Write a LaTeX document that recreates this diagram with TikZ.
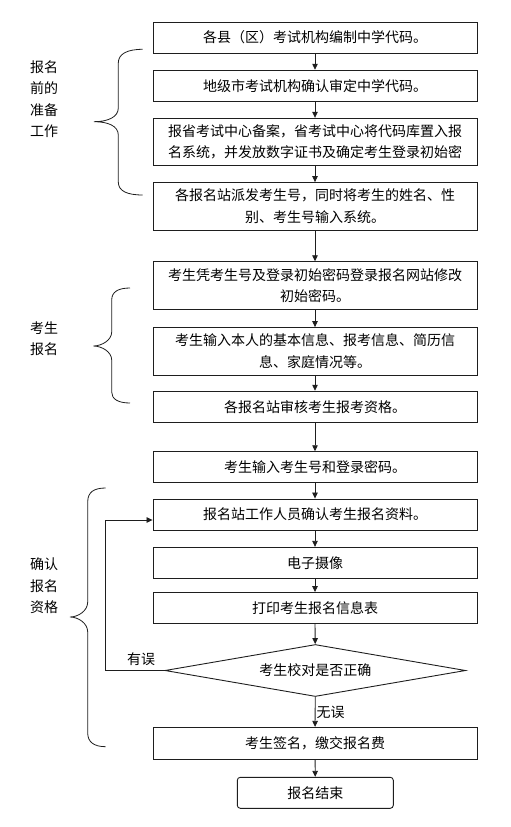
\documentclass[tikz,border=0pt]{standalone}
\usepackage{fontspec}
\setmainfont{Noto Sans CJK SC}
\usepackage{tikz}
\usetikzlibrary{positioning,arrows.meta,shapes.geometric}
\definecolor{lineblack}{RGB}{30,30,30}

\begin{document}
\begin{tikzpicture}[x=1pt, y=-1pt,
    every node/.style={font=\fontsize{14}{21.5}\selectfont, text=black},
    stepbox/.style={draw=lineblack, line width=0.9pt, minimum width=324pt, inner sep=0pt, align=center},
    flow/.style={draw=lineblack, line width=0.8pt, -{Triangle[length=6pt, width=5.5pt]}},
    brace/.style={draw=lineblack, line width=0.8pt}]
\useasboundingbox (0,0) rectangle (511,827);

% Steps
\node[stepbox, minimum height=31pt] (county) at (315,37.5) {各县（区）考试机构编制中学代码。};
\node[stepbox, minimum height=31pt] (city) at (315,85.7) {地级市考试机构确认审定中学代码。};
\node[stepbox, minimum height=47.5pt] (prov) at (315,142) {报省考试中心备案，省考试中心将代码库置入报\\名系统，并发放数字证书及确定考生登录初始密};
\node[stepbox, minimum height=47.5pt] (station) at (315,206.3) {各报名站派发考生号，同时将考生的姓名、性\\别、考生号输入系统。};
\node[stepbox, minimum height=47.5pt] (login) at (315,285.5) {考生凭考生号及登录初始密码登录报名网站修改\\初始密码。};
\node[stepbox, minimum height=47.5pt] (info) at (315,351.3) {考生输入本人的基本信息、报考信息、简历信\\息、家庭情况等。};
\node[stepbox, minimum height=31pt] (audit) at (315,406.7) {各报名站审核考生报考资格。};
\node[stepbox, minimum height=31pt] (enter) at (315,467.2) {考生输入考生号和登录密码。};
\node[stepbox, minimum height=31pt] (confirm) at (315,514.5) {报名站工作人员确认考生报名资料。};
\node[stepbox, minimum height=31pt] (photo) at (315,562.8) {电子摄像};
\node[stepbox, minimum height=31pt] (printout) at (315,608) {打印考生报名信息表};
\node[draw=lineblack, line width=0.9pt, diamond, inner sep=0pt, shape aspect=6,
      minimum width=300.7pt, minimum height=52pt] (check) at (315.3,670.5) {考生校对是否正确};
\node[stepbox, minimum height=31.7pt] (sign) at (315,743.2) {考生签名，缴交报名费};
\node[stepbox, minimum width=156pt, minimum height=31pt, rounded corners=3pt] (finish) at (315.3,792.8) {报名结束};

% Connectors
\draw[flow] (county) -- (city);
\draw[flow] (city) -- (prov);
\draw[flow] (prov) -- (station);
\draw[flow] (station) -- (login);
\draw[flow] (login) -- (info);
\draw[flow] (info) -- (audit);
\draw[flow] (audit) -- (enter);
\draw[flow] (enter) -- (confirm);
\draw[flow] (confirm) -- (photo);
\draw[flow] (photo) -- (printout);
\draw[flow] (printout) -- (check);
\draw[flow] (check) -- node[right, inner sep=1pt] (ok) {无误} (sign);
\draw[flow] (sign) -- (finish);

% Back loop
\coordinate (back) at (105.7,670.5);
\draw[flow] (check.west) -- (back) |- ([yshift=-5.5pt]confirm.west);
\node (wrong) at (141,659) {有误};

% Group braces
\draw[brace] (142.7,49.3) .. controls (127,49.3) and (118.3,54) .. (118.3,63) -- (118.3,108)
  .. controls (118.3,117) and (108,121.7) .. (94,121.7)
  .. controls (108,121.7) and (118.3,126) .. (118.3,135) -- (118.3,182)
  .. controls (118.3,191) and (127,195) .. (142.7,195);
\draw[brace] (130,288) .. controls (118,288) and (111.7,292) .. (111.7,300) -- (111.7,332)
  .. controls (111.7,340) and (102,346) .. (93.3,346)
  .. controls (102,346) and (111.7,352) .. (111.7,360) -- (111.7,392)
  .. controls (111.7,399) and (118,403) .. (130,403);
\draw[brace] (105.7,488) .. controls (94,488) and (87.7,492) .. (87.7,502) -- (87.7,602)
  .. controls (87.7,611) and (78,617) .. (70,617)
  .. controls (78,617) and (87.7,623) .. (87.7,632) -- (87.7,733)
  .. controls (87.7,742) and (94,746.7) .. (105.7,746.7);

% Group labels
\node[align=center] (prep) at (44,99) {报名\\前的\\准备\\工作};
\node[align=center] (apply) at (44,338.5) {考生\\报名};
\node[align=center] (verify) at (44,586) {确认\\报名\\资格};
\end{tikzpicture}
\end{document}
